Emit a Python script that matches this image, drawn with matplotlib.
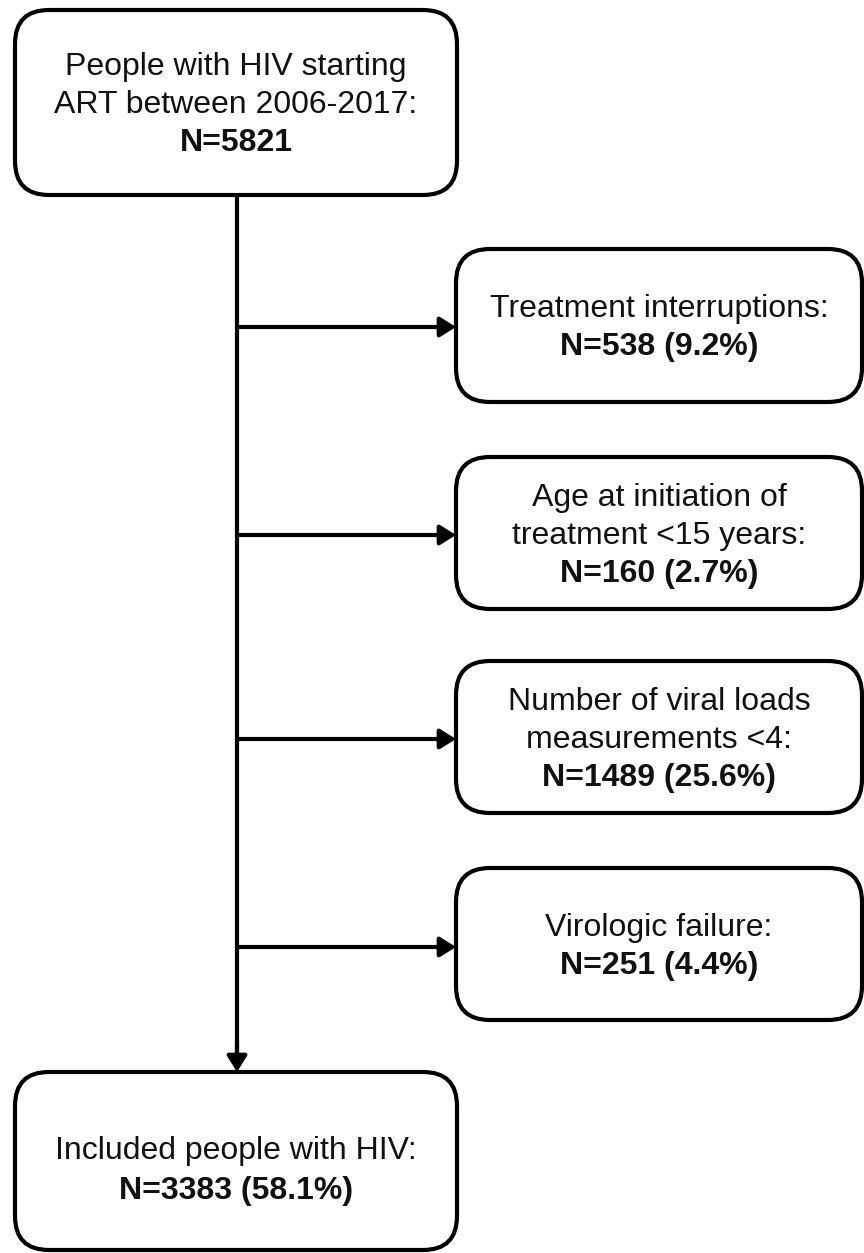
import matplotlib
matplotlib.use("Agg")
import matplotlib.pyplot as plt
from matplotlib.patches import FancyBboxPatch

plt.rcParams['font.family'] = ['Liberation Sans', 'Arial', 'DejaVu Sans']

# Box contents
top_lines = ["People with HIV starting", "ART between 2006-2017:"]
top_bold = "N=5821"
excl_lines = [
    ["Treatment interruptions:"],
    ["Age at initiation of", "treatment <15 years:"],
    ["Number of viral loads", "measurements <4:"],
    ["Virologic failure:"],
]
excl_bold = ["N=538 (9.2%)", "N=160 (2.7%)", "N=1489 (25.6%)", "N=251 (4.4%)"]
bottom_lines = ["Included people with HIV:"]
bottom_bold = "N=3383 (58.1%)"

W, H = 864, 1253
fig = plt.figure(figsize=(W / 100, H / 100), dpi=100)
ax = fig.add_axes([0, 0, 1, 1])
ax.set_xlim(0, W)
ax.set_ylim(H, 0)
ax.axis('off')

LW = 3.0
FS = 23
LINE_H = 38
R = 34
TXT_OFF = 3
ARROW = dict(arrowstyle='-|>,head_length=0.48,head_width=0.3', color='black', lw=LW,
             shrinkA=0, shrinkB=0, mutation_scale=20)


def box(x0, y0, x1, y1):
    p = FancyBboxPatch((x0 + R, y0 + R), (x1 - x0) - 2 * R, (y1 - y0) - 2 * R,
                       boxstyle=f"round,pad={R}", fc='white', ec='black', lw=LW,
                       zorder=3)
    ax.add_patch(p)


def texts(cx, cy, lines, bold, lh=LINE_H):
    allL = [(l, 'normal') for l in lines] + [(bold, 'bold')]
    n = len(allL)
    for i, (s, w) in enumerate(allL):
        y = cy + TXT_OFF + (i - (n - 1) / 2) * lh
        ax.text(cx, y, s, ha='center', va='center', fontsize=FS, fontweight=w,
                color='#111111', zorder=4)


# top box
tb = (15, 10, 457, 195)
box(*tb)
texts((tb[0] + tb[2]) / 2, 102, top_lines, top_bold)

# bottom box
bb = (15, 1072, 457, 1250)
box(*bb)
texts((bb[0] + bb[2]) / 2, 1168, bottom_lines, bottom_bold, lh=39)

# exclusion boxes
ex_boxes = [(456, 249, 862, 402), (456, 457, 862, 609), (456, 661, 862, 813), (456, 868, 862, 1020)]
arrow_y = [327, 535, 739, 947]
vx = 237

ax.plot([vx, vx], [tb[3], bb[1] - 10], color='black', lw=LW, solid_capstyle='butt', zorder=2)
ax.annotate('', xy=(vx, bb[1]), xytext=(vx, bb[1] - 30), arrowprops=ARROW, zorder=2)

for (b, lines, bold, ay) in zip(ex_boxes, excl_lines, excl_bold, arrow_y):
    box(*b)
    texts((b[0] + b[2]) / 2, (b[1] + b[3]) / 2, lines, bold)
    ax.annotate('', xy=(b[0], ay), xytext=(vx, ay), arrowprops=ARROW, zorder=2)

fig.savefig('out.png', dpi=100, facecolor='white')
